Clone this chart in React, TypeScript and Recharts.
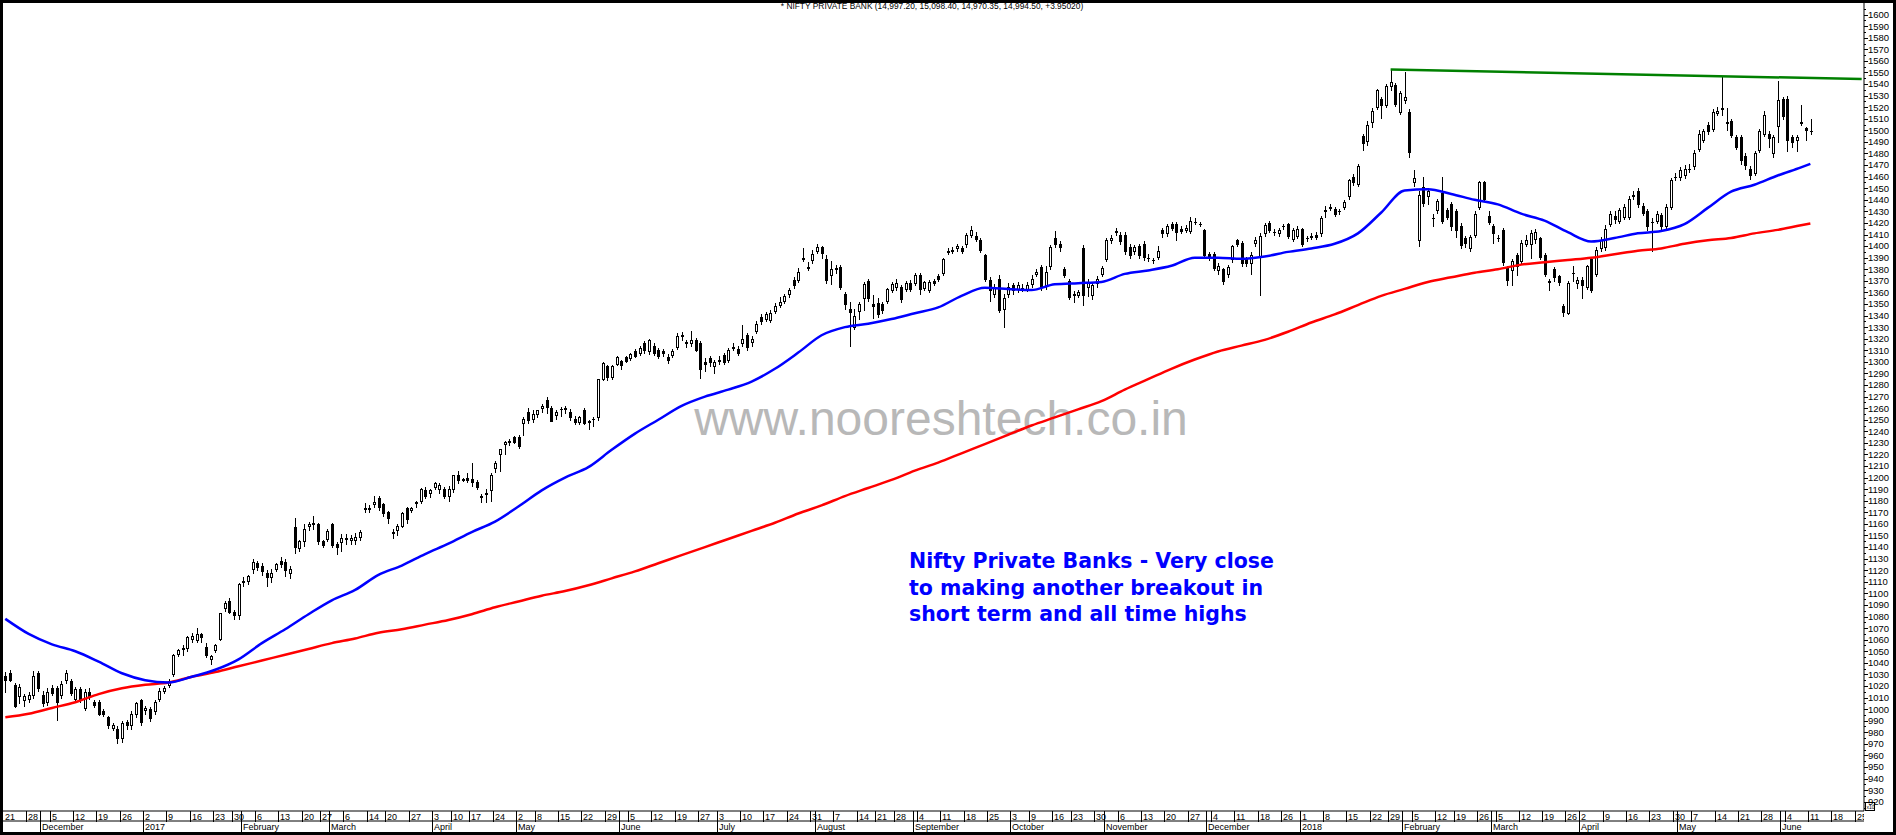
import React from "react";
import { ComposedChart, Bar, Line, XAxis, YAxis } from "recharts";

const W = 1896;
const H = 835;
const PLOT_LEFT = 3;
const PLOT_RIGHT = 1864;
const PLOT_BOTTOM = 811;

const FIRST_DAY = "2016-11-21";
const LAST_DAY = "2018-06-26";
const HOLIDAYS = [
  "2017-01-26", "2017-02-24", "2017-03-13", "2017-04-04", "2017-04-14", "2017-05-01",
  "2017-06-26", "2017-08-15", "2017-08-25", "2017-10-02", "2017-10-20", "2017-12-25",
  "2018-01-26", "2018-02-13", "2018-03-02", "2018-03-29", "2018-03-30", "2018-05-01",
];
const MONTHS = ["January", "February", "March", "April", "May", "June", "July", "August", "September", "October", "November", "December"];

// daily candles, index points / 10 as on the price scale
const OPEN = [
  1029, 1031, 1021, 1011, 1008, 1009, 1012, 1031, 1012, 1006, 1018, 1018, 1012, 1025, 1024, 1009, 1017, 1001, 1015, 1006,
  1006, 998, 993, 984, 983, 975, 989, 986, 996, 1008, 999, 1000, 998, 1009, 1016, 1021, 1030, 1048, 1052, 1053,
  1061, 1060, 1065, 1054, 1043, 1051, 1061, 1087, 1093, 1084, 1081, 1110, 1111, 1121, 1126, 1124, 1118, 1114, 1121, 1128,
  1127, 1118, 1157, 1139, 1145, 1158, 1160, 1160, 1145, 1147, 1160, 1143, 1144, 1147, 1146, 1146, 1149, 1174, 1173, 1177,
  1182, 1177, 1170, 1153, 1155, 1158, 1174, 1172, 1178, 1180, 1189, 1187, 1192, 1190, 1190, 1184, 1190, 1202, 1198, 1200,
  1199, 1196, 1184, 1186, 1189, 1208, 1220, 1229, 1231, 1235, 1235, 1247, 1257, 1251, 1255, 1260, 1267, 1260, 1254, 1259,
  1259, 1257, 1251, 1248, 1258, 1249, 1251, 1252, 1285, 1296, 1287, 1298, 1301, 1304, 1303, 1309, 1308,
  1316, 1309, 1314, 1310, 1309, 1304, 1306, 1313, 1323, 1317, 1316, 1319, 1316, 1300, 1303, 1296, 1301, 1306, 1302, 1312,
  1311, 1316, 1323, 1317, 1327, 1339, 1337, 1336, 1344, 1349, 1353, 1359, 1371, 1371, 1389, 1381, 1388, 1396, 1399, 1389,
  1375, 1381, 1382, 1359, 1346, 1330, 1344, 1355, 1370, 1350, 1351, 1350, 1353, 1362, 1365, 1365, 1363, 1368, 1368, 1375,
  1364, 1362, 1370, 1374, 1377, 1396, 1396, 1398, 1398, 1402, 1410, 1409, 1405, 1392, 1371, 1359, 1372, 1346, 1359, 1366,
  1363, 1364, 1363, 1367, 1376, 1382, 1366, 1383, 1407, 1402, 1380, 1370, 1359, 1358, 1398, 1365, 1358, 1368, 1376, 1389,
  1405, 1412, 1410, 1410, 1399, 1396, 1400, 1402, 1390, 1388, 1391, 1414, 1411, 1419, 1419, 1415, 1414, 1413, 1421, 1419,
  1414, 1393, 1393, 1379, 1380, 1376, 1389, 1405, 1403, 1389, 1385, 1403,
  1391, 1411, 1420, 1412, 1411, 1417, 1419, 1406, 1409, 1415, 1407, 1408, 1410, 1411, 1430, 1434, 1432, 1430, 1434, 1443,
  1460, 1454, 1495, 1491, 1507, 1520, 1527, 1522, 1538, 1539, 1516, 1526, 1516, 1455, 1405, 1451, 1443, 1424, 1431, 1446,
  1431, 1436, 1430, 1417, 1407, 1398, 1410, 1434, 1455, 1426, 1417, 1407, 1414, 1381, 1379, 1392, 1387, 1402, 1402, 1406,
  1407, 1392, 1370, 1380, 1374, 1348, 1342, 1377, 1368, 1371, 1365, 1389, 1376, 1398, 1399, 1419, 1426, 1422, 1425, 1425,
  1443, 1448, 1435, 1430, 1421, 1422, 1427, 1417, 1434, 1460, 1460, 1461, 1467, 1469, 1484, 1492, 1505, 1501, 1515, 1519,
  1507, 1508, 1494, 1494, 1478, 1467, 1463, 1483, 1497, 1497, 1480, 1504, 1527, 1527, 1494, 1492, 1507, 1502, 1499.7,
];
const HIGH = [
  1032, 1034, 1023, 1022, 1013, 1015, 1033, 1033, 1016, 1018, 1021, 1020, 1024, 1034, 1026, 1019, 1019, 1017, 1018, 1008,
  1008, 1000, 994, 988, 985, 990, 991, 998, 1006, 1009, 1003, 1002, 1008, 1018, 1020, 1026, 1048, 1052, 1055, 1063,
  1066, 1070, 1066, 1057, 1047, 1056, 1083, 1093, 1096, 1086, 1109, 1114, 1116, 1130, 1128, 1126, 1120, 1121, 1126, 1131,
  1130, 1124, 1165, 1146, 1160, 1162, 1167, 1161, 1146, 1156, 1161, 1144, 1151, 1151, 1150, 1152, 1155, 1178, 1176, 1184,
  1184, 1178, 1171, 1156, 1160, 1170, 1175, 1175, 1180, 1191, 1192, 1190, 1196, 1195, 1192, 1193, 1202, 1206, 1200, 1204,
  1213, 1198, 1186, 1190, 1204, 1214, 1225, 1232, 1233, 1236, 1237, 1252, 1260, 1258, 1258, 1264, 1270, 1262, 1258, 1261,
  1262, 1259, 1253, 1253, 1260, 1250, 1252, 1285, 1300, 1297, 1297, 1305, 1302, 1305, 1308, 1311, 1314,
  1318, 1320, 1316, 1312, 1311, 1307, 1311, 1325, 1326, 1319, 1327, 1321, 1318, 1303, 1305, 1302, 1305, 1308, 1312, 1316,
  1314, 1332, 1325, 1322, 1335, 1341, 1343, 1345, 1351, 1356, 1359, 1364, 1373, 1381, 1398, 1386, 1397, 1402, 1400, 1392,
  1387, 1384, 1384, 1360, 1352, 1346, 1352, 1369, 1372, 1358, 1355, 1352, 1364, 1369, 1372, 1366, 1370, 1371, 1377, 1377,
  1370, 1371, 1372, 1376, 1390, 1398, 1399, 1402, 1400, 1411, 1417, 1412, 1407, 1393, 1373, 1367, 1375, 1359, 1368, 1368,
  1369, 1367, 1369, 1375, 1380, 1384, 1383, 1401, 1413, 1404, 1382, 1372, 1361, 1362, 1401, 1372, 1368, 1374, 1383, 1407,
  1410, 1416, 1412, 1412, 1402, 1401, 1402, 1404, 1393, 1390, 1400, 1416, 1419, 1421, 1421, 1417, 1418, 1425, 1424, 1421,
  1415, 1395, 1395, 1385, 1381, 1384, 1401, 1406, 1404, 1391, 1395, 1408,
  1411, 1420, 1422, 1415, 1416, 1419, 1420, 1416, 1417, 1416, 1409, 1411, 1412, 1426, 1435, 1436, 1434, 1432, 1440, 1458,
  1462, 1471, 1497, 1508, 1519, 1536, 1529, 1540, 1552, 1541, 1534, 1550, 1518, 1466, 1448, 1460, 1450, 1428, 1441, 1460,
  1433, 1438, 1432, 1420, 1409, 1410, 1430, 1456, 1456, 1430, 1419, 1410, 1416, 1383, 1389, 1394, 1405, 1410, 1414, 1415,
  1408, 1394, 1372, 1382, 1375, 1350, 1370, 1383, 1373, 1373, 1384, 1390, 1399, 1408, 1418, 1430, 1430, 1433, 1436, 1443,
  1448, 1450, 1437, 1432, 1424, 1430, 1429, 1436, 1459, 1463, 1468, 1470, 1471, 1483, 1500, 1501, 1507, 1518, 1520, 1547,
  1519, 1510, 1496, 1496, 1480, 1469, 1482, 1501, 1517, 1499, 1496, 1543, 1529, 1530, 1496, 1496, 1522, 1503, 1509.8,
];
const LOW = [
  1015, 1024, 1002, 1005, 1003, 1006, 1010, 1016, 1003, 1004, 1012, 991, 1010, 1023, 1012, 1007, 1006, 999, 1009, 1002,
  995, 994, 984, 982, 971, 972, 983, 983, 993, 986, 996, 990, 996, 1007, 1014, 1019, 1029, 1046, 1047, 1050,
  1058, 1058, 1058, 1045, 1039, 1049, 1060, 1085, 1083, 1078, 1078, 1106, 1108, 1118, 1120, 1116, 1106, 1110, 1119, 1123,
  1115, 1113, 1135, 1137, 1141, 1155, 1156, 1143, 1140, 1145, 1140, 1134, 1137, 1143, 1143, 1143, 1146, 1170, 1170, 1175,
  1172, 1167, 1161, 1148, 1150, 1157, 1161, 1170, 1175, 1178, 1182, 1183, 1190, 1187, 1182, 1180, 1188, 1195, 1197, 1196,
  1193, 1190, 1179, 1179, 1180, 1205, 1206, 1220, 1228, 1230, 1226, 1237, 1247, 1248, 1252, 1257, 1256, 1249, 1251, 1253,
  1256, 1250, 1246, 1246, 1246, 1242, 1245, 1250, 1284, 1284, 1285, 1297, 1294, 1300, 1302, 1304, 1306,
  1308, 1307, 1306, 1303, 1305, 1299, 1304, 1311, 1319, 1313, 1314, 1309, 1286, 1292, 1296, 1290, 1298, 1298, 1300, 1310,
  1306, 1314, 1310, 1314, 1325, 1333, 1335, 1334, 1342, 1347, 1351, 1356, 1364, 1369, 1387, 1379, 1385, 1394, 1390, 1368,
  1367, 1377, 1363, 1346, 1314, 1328, 1337, 1345, 1353, 1338, 1339, 1342, 1351, 1360, 1362, 1352, 1361, 1361, 1366, 1359,
  1362, 1360, 1366, 1370, 1375, 1393, 1394, 1396, 1394, 1399, 1408, 1404, 1395, 1370, 1353, 1356, 1343, 1330, 1356, 1359,
  1360, 1361, 1361, 1365, 1374, 1362, 1363, 1380, 1399, 1396, 1373, 1354, 1352, 1356, 1349, 1357, 1354, 1365, 1374, 1387,
  1403, 1410, 1402, 1393, 1390, 1393, 1390, 1388, 1387, 1385, 1389, 1408, 1409, 1414, 1405, 1411, 1412, 1411, 1419, 1417,
  1390, 1388, 1379, 1376, 1367, 1373, 1386, 1400, 1383, 1383, 1376, 1400,
  1358, 1409, 1412, 1410, 1409, 1415, 1407, 1404, 1407, 1400, 1404, 1406, 1406, 1409, 1425, 1431, 1426, 1428, 1432, 1441,
  1453, 1452, 1483, 1487, 1503, 1518, 1511, 1520, 1535, 1521, 1514, 1524, 1477, 1452, 1400, 1435, 1436, 1417, 1429, 1420,
  1423, 1414, 1408, 1398, 1399, 1396, 1408, 1432, 1439, 1419, 1403, 1404, 1384, 1366, 1366, 1375, 1385, 1400, 1390, 1403,
  1389, 1374, 1362, 1370, 1366, 1340, 1341, 1370, 1364, 1355, 1363, 1360, 1374, 1396, 1397, 1417, 1420, 1420, 1423, 1423,
  1441, 1434, 1427, 1414, 1396, 1420, 1415, 1415, 1432, 1457, 1457, 1459, 1464, 1467, 1482, 1490, 1497, 1499, 1513, 1513,
  1500, 1494, 1484, 1471, 1467, 1458, 1461, 1481, 1495, 1486, 1477, 1490, 1510, 1482, 1486, 1482, 1505, 1492, 1497,
];
const CLOSE = [
  1025, 1025, 1003, 1019, 1011, 1012, 1029, 1018, 1005, 1015, 1014, 1006, 1022, 1031, 1014, 1017, 1009, 1015, 1011, 1004,
  996, 996, 986, 986, 975, 988, 986, 996, 1005, 989, 1001, 992, 1006, 1016, 1018, 1024, 1047, 1051, 1053, 1062,
  1063, 1065, 1062, 1047, 1046, 1055, 1083, 1092, 1084, 1081, 1108, 1111, 1115, 1127, 1123, 1119, 1114, 1118, 1125, 1125,
  1120, 1121, 1140, 1145, 1156, 1160, 1161, 1145, 1142, 1154, 1142, 1140, 1148, 1148, 1148, 1149, 1153, 1173, 1174, 1179,
  1175, 1169, 1165, 1152, 1158, 1169, 1164, 1174, 1179, 1190, 1184, 1189, 1195, 1194, 1184, 1190, 1202, 1198, 1199, 1198,
  1196, 1192, 1183, 1187, 1202, 1213, 1225, 1231, 1232, 1231, 1227, 1251, 1250, 1255, 1258, 1262, 1261, 1249, 1257, 1259,
  1260, 1252, 1248, 1252, 1247, 1248, 1251, 1285, 1299, 1287, 1296, 1304, 1297, 1301, 1307, 1305, 1312,
  1310, 1319, 1308, 1305, 1308, 1302, 1309, 1322, 1322, 1316, 1319, 1310, 1294, 1298, 1300, 1300, 1302, 1300, 1310, 1313,
  1308, 1320, 1313, 1320, 1333, 1335, 1341, 1342, 1348, 1352, 1357, 1362, 1366, 1378, 1390, 1382, 1393, 1399, 1394, 1371,
  1380, 1380, 1365, 1350, 1343, 1340, 1350, 1367, 1355, 1348, 1341, 1345, 1363, 1367, 1368, 1354, 1368, 1363, 1375, 1363,
  1369, 1369, 1368, 1372, 1389, 1395, 1397, 1400, 1396, 1410, 1414, 1406, 1397, 1372, 1362, 1365, 1345, 1355, 1365, 1362,
  1366, 1363, 1366, 1372, 1378, 1365, 1378, 1399, 1402, 1399, 1375, 1356, 1358, 1360, 1358, 1369, 1366, 1372, 1381, 1405,
  1407, 1413, 1404, 1396, 1392, 1399, 1392, 1391, 1390, 1388, 1396, 1411, 1417, 1416, 1412, 1413, 1416, 1422, 1421, 1419,
  1392, 1390, 1381, 1383, 1370, 1382, 1400, 1402, 1385, 1385, 1392, 1405,
  1409, 1418, 1414, 1412, 1414, 1417, 1409, 1414, 1415, 1402, 1407, 1409, 1408, 1424, 1431, 1433, 1428, 1430, 1438, 1457,
  1455, 1469, 1489, 1505, 1517, 1535, 1522, 1538, 1542, 1523, 1532, 1529, 1481, 1459, 1444, 1437, 1448, 1424, 1439, 1422,
  1425, 1417, 1414, 1401, 1403, 1408, 1428, 1455, 1441, 1421, 1411, 1407, 1386, 1371, 1387, 1383, 1403, 1405, 1411, 1412,
  1391, 1376, 1369, 1373, 1369, 1343, 1368, 1377, 1371, 1366, 1383, 1362, 1397, 1405, 1415, 1428, 1423, 1431, 1434, 1441,
  1444, 1436, 1429, 1417, 1421, 1428, 1417, 1434, 1457, 1460, 1466, 1467, 1467, 1480, 1497, 1499, 1499, 1516, 1517, 1518,
  1506, 1496, 1486, 1474, 1470, 1461, 1480, 1499, 1513, 1493, 1494, 1526, 1512, 1492, 1490, 1494, 1506, 1500, 1499.5,
];

// moving averages: [trading day number, value]
const MA50: [number, number][] = [
  [0, 1078], [5, 1065], [10, 1056], [15, 1050], [20, 1041], [25, 1031], [30, 1025], [35, 1023], [40, 1028], [45, 1034],
  [50, 1043], [55, 1057], [60, 1069], [65, 1082], [70, 1094], [75, 1103], [80, 1116], [85, 1124], [90, 1134], [95, 1143],
  [100, 1153], [105, 1162], [110, 1175], [115, 1189], [120, 1200], [125, 1209], [130, 1224], [135, 1238], [140, 1250], [145, 1262],
  [150, 1270], [155, 1276], [160, 1283], [165, 1294], [170, 1308], [175, 1323], [180, 1330], [185, 1333], [190, 1337], [195, 1342],
  [200, 1347], [205, 1357], [210, 1364], [215, 1363], [220, 1362], [225, 1367], [230, 1368], [235, 1369], [240, 1376], [245, 1379],
  [250, 1383], [255, 1390], [260, 1390], [265, 1389], [270, 1391], [275, 1395], [280, 1398], [285, 1402], [290, 1411], [295, 1429],
  [300, 1448], [305, 1449], [310, 1445], [315, 1440], [320, 1436], [325, 1428], [330, 1422], [335, 1412], [340, 1404], [345, 1407],
  [350, 1411], [355, 1413], [360, 1419], [365, 1433], [370, 1447], [375, 1453], [380, 1461], [385, 1468], [387, 1471],
];
const MA200: [number, number][] = [
  [0, 993], [5, 996], [10, 1001], [15, 1006], [20, 1013], [25, 1018], [30, 1021], [35, 1023], [40, 1028], [45, 1032],
  [50, 1037], [55, 1042], [60, 1047], [65, 1052], [70, 1057], [75, 1061], [80, 1066], [85, 1069], [90, 1073], [95, 1077],
  [100, 1082], [105, 1088], [110, 1093], [115, 1098], [120, 1102], [125, 1107], [130, 1113], [135, 1119], [140, 1126], [145, 1133],
  [150, 1140], [155, 1147], [160, 1154], [165, 1161], [170, 1169], [175, 1176], [180, 1184], [185, 1191], [190, 1198], [195, 1206],
  [200, 1213], [205, 1221], [210, 1229], [215, 1237], [220, 1245], [225, 1252], [230, 1259], [235, 1266], [240, 1276], [245, 1285],
  [250, 1294], [255, 1302], [260, 1309], [265, 1314], [270, 1319], [275, 1326], [280, 1334], [285, 1341], [290, 1349], [295, 1357],
  [300, 1363], [305, 1369], [310, 1373], [315, 1377], [320, 1380], [325, 1384], [330, 1386], [335, 1388], [340, 1390], [345, 1393],
  [350, 1396], [355, 1398], [360, 1402], [365, 1405], [370, 1407], [375, 1411], [380, 1414], [385, 1418], [387, 1419.5],
];
// resistance line drawn over the highs
const TREND: [string, number][] = [["2018-01-29", 1552.5], ["2018-06-26", 1544.3]];

const Y_TICKS: number[] = [];
for (let v = 915; v <= 1605; v += 5) Y_TICKS.push(v);

function tradingDays(): string[] {
  const out: string[] = [];
  const d = new Date(FIRST_DAY + "T00:00:00Z");
  const end = new Date(LAST_DAY + "T00:00:00Z");
  while (d <= end) {
    const wd = d.getUTCDay();
    const iso = d.toISOString().slice(0, 10);
    if (wd !== 0 && wd !== 6 && !HOLIDAYS.includes(iso)) out.push(iso);
    d.setUTCDate(d.getUTCDate() + 1);
  }
  return out;
}

const DAYS = tradingDays();
const BAND = (PLOT_RIGHT - PLOT_LEFT) / DAYS.length;

const weekTicks: string[] = [];
const monthTicks: string[] = [];
DAYS.forEach((d, i) => {
  const prev = i > 0 ? DAYS[i - 1] : null;
  const cur = new Date(d + "T00:00:00Z");
  if (!prev) {
    weekTicks.push(d);
    return;
  }
  const p = new Date(prev + "T00:00:00Z");
  if (cur.getUTCDay() <= p.getUTCDay() || cur.getTime() - p.getTime() > 6 * 864e5) weekTicks.push(d);
  if (cur.getUTCMonth() !== p.getUTCMonth()) monthTicks.push(d);
});

const ma50Map = new Map(MA50);
const ma200Map = new Map(MA200);
const trendMap = new Map(TREND);

const data = DAYS.map((date, i) => ({
  date,
  range: i < CLOSE.length ? [LOW[i], HIGH[i]] : undefined,
  open: i < OPEN.length ? OPEN[i] : undefined,
  high: HIGH[i],
  low: LOW[i],
  close: CLOSE[i],
  ma50: ma50Map.has(i) ? ma50Map.get(i) : null,
  ma200: ma200Map.has(i) ? ma200Map.get(i) : null,
  trend: trendMap.has(date) ? trendMap.get(date) : null,
}));

const AXIS_FONT = "'Liberation Sans', Arial, sans-serif";

function Candle(props: any) {
  const { x, y, width, height, payload } = props;
  if (!payload || payload.open == null || height == null) return null;
  const { open, high, low, close } = payload;
  const top = Math.min(y, y + height);
  const h = Math.abs(height);
  const span = high - low || 1;
  const py = (v: number) => top + ((high - v) / span) * h;
  const cx = Math.round(x + width / 2);
  const b1 = Math.round(Math.min(py(open), py(close)));
  const b2 = Math.round(Math.max(py(open), py(close)));
  const up = close >= open;
  return (
    <g shapeRendering="crispEdges">
      <line x1={cx + 0.5} x2={cx + 0.5} y1={Math.round(top)} y2={Math.round(top + h) + 1} stroke="#000" />
      {b2 - b1 < 1 ? (
        <line x1={cx - 1} x2={cx + 2} y1={b1 + 0.5} y2={b1 + 0.5} stroke="#000" />
      ) : (
        <rect x={cx - 0.5} y={b1 + 0.5} width={2} height={b2 - b1} fill={up ? "#fff" : "#000"} stroke="#000" />
      )}
    </g>
  );
}

function PriceTick(props: any) {
  const { y, payload } = props;
  const v = payload.value;
  const major = v % 10 === 0;
  const yy = Math.round(y) + 0.5;
  return (
    <g>
      <line x1={PLOT_RIGHT} x2={PLOT_RIGHT + (major ? 4 : 2)} y1={yy} y2={yy} stroke="#000" shapeRendering="crispEdges" />
      {major && (
        <text x={PLOT_RIGHT + 4} y={y + 3.4} fontSize={9.5} fontFamily={AXIS_FONT} fill="#000">
          {v}
        </text>
      )}
    </g>
  );
}

function WeekTick(props: any) {
  const { x, payload } = props;
  const left = Math.round(x - BAND / 2) + 0.5;
  const first = payload.value === DAYS[0];
  return (
    <svg x={0} y={0} width={PLOT_RIGHT} height={H} overflow="hidden">
      {!first && <line x1={left} x2={left} y1={PLOT_BOTTOM} y2={PLOT_BOTTOM + 11} stroke="#000" shapeRendering="crispEdges" />}
      <text x={left + 1.5} y={PLOT_BOTTOM + 9} fontSize={9} fontFamily={AXIS_FONT} fill="#000">
        {Number(String(payload.value).slice(8))}
      </text>
    </svg>
  );
}

function MonthTick(props: any) {
  const { x, payload } = props;
  const left = Math.round(x - BAND / 2) + 0.5;
  const d = new Date(payload.value + "T00:00:00Z");
  const m = d.getUTCMonth();
  const label = m === 0 ? String(d.getUTCFullYear()) : MONTHS[m];
  return (
    <g>
      <line x1={left} x2={left} y1={PLOT_BOTTOM} y2={PLOT_BOTTOM + 21} stroke="#000" shapeRendering="crispEdges" />
      <text x={left + 1.5} y={PLOT_BOTTOM + 19} fontSize={9} fontFamily={AXIS_FONT} fill="#000">
        {label}
      </text>
    </g>
  );
}

export default function App() {
  return (
    <div style={{ position: "absolute", left: 0, top: 0, width: W, height: H, background: "#000", overflow: "hidden" }}>
      <div style={{ position: "absolute", left: 3, top: 3, width: W - 6, height: H - 6, background: "#fff" }} />
      <svg style={{ position: "absolute", left: 0, top: 0 }} width={W} height={H}>
        <text x={932} y={9} textAnchor="middle" fontSize={8.4} fontFamily={AXIS_FONT} fill="#000">
          * NIFTY PRIVATE BANK (14,997.20, 15,098.40, 14,970.35, 14,994.50, +3.95020)
        </text>
        <text x={941} y={435} textAnchor="middle" fontSize={48} fontFamily={AXIS_FONT} fill="#b8b8b8">
          www.nooreshtech.co.in
        </text>
        <g fontFamily="'DejaVu Sans', Verdana, sans-serif" fontWeight="bold" fontSize={20.5} fill="#0000ff">
          <text x={909} y={568}>Nifty Private Banks - Very close</text>
          <text x={909} y={595}>to making another breakout in</text>
          <text x={909} y={621}>short term and all time highs</text>
        </g>
        <rect x={1865.5} y={802.5} width={9} height={8} fill="none" stroke="#000" />
        <text x={1866.5} y={809} fontSize={5} fontFamily={AXIS_FONT} fill="#000">x10</text>
      </svg>
      <div style={{ position: "absolute", left: 0, top: 0 }}>
        <ComposedChart width={W} height={H} data={data} margin={{ top: 3, right: 3, bottom: 3, left: 3 }}>
          <XAxis
            xAxisId="w"
            dataKey="date"
            height={11}
            ticks={weekTicks}
            interval={0}
            tick={(p: any) => <WeekTick {...p} />}
            tickLine={false}
            tickSize={0}
            axisLine={{ stroke: "#000" }}
          />
          <XAxis
            xAxisId="m"
            dataKey="date"
            height={10}
            ticks={monthTicks}
            interval={0}
            tick={(p: any) => <MonthTick {...p} />}
            tickLine={false}
            tickSize={0}
            axisLine={{ stroke: "#000" }}
          />
          <YAxis
            orientation="right"
            type="number"
            domain={[912, 1610]}
            allowDataOverflow
            ticks={Y_TICKS}
            interval={0}
            width={29}
            tickSize={0}
            tickMargin={0}
            tickLine={false}
            axisLine={{ stroke: "#000" }}
            tick={(p: any) => <PriceTick {...p} />}
          />
          <Bar xAxisId="w" dataKey="range" barSize={3} shape={(p: any) => <Candle {...p} />} isAnimationActive={false} />
          <Line xAxisId="w" type="monotone" dataKey="ma200" stroke="#ff0000" strokeWidth={2.5} dot={false} activeDot={false} connectNulls isAnimationActive={false} />
          <Line xAxisId="w" type="monotone" dataKey="ma50" stroke="#0000ff" strokeWidth={2.5} dot={false} activeDot={false} connectNulls isAnimationActive={false} />
          <Line xAxisId="w" type="linear" dataKey="trend" stroke="#008000" strokeWidth={2.5} dot={false} activeDot={false} connectNulls isAnimationActive={false} />
        </ComposedChart>
      </div>
    </div>
  );
}
